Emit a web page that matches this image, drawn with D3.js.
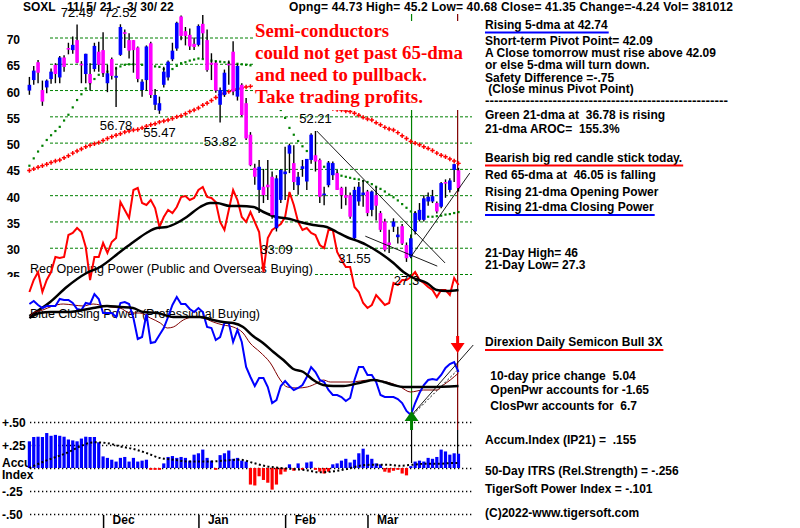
<!DOCTYPE html>
<html><head><meta charset="utf-8">
<script src="https://cdn.jsdelivr.net/npm/d3@7"></script>
<style>body{margin:0;background:#fff}svg{display:block}text{font-family:"Liberation Sans",Arial,sans-serif}</style>
</head><body><svg id="c" width="800" height="528"></svg>
<script>
// ---------- DATA ----------
const openP = [59.9,61.9,65.3,60.0,60.5,62.1,64.8,62.4,66.2,68.0,
 67.6,69.5,65.0,63.05,63.05,64.0,67.3,67.6,61.3,65.9,
 62.35,66.7,71.0,69.5,69.5,68.1,60.0,61.9,68.9,57.2,
 56.1,61.0,62.4,65.85,67.9,74.0,71.2,70.5,68.8,68.6,
 72.6,69.5,65.2,65.2,57.2,59.06,65.0,67.3,58.75,61.0,
 57.5,51.5,45.2,41.0,41.6,42.0,43.5,33.7,39.1,44.0,
 47.9,46.1,41.9,45.0,42.6,46.7,47.6,46.7,40.0,41.9,
 43.8,44.2,41.4,40.0,40.0,31.8,38.8,40.0,40.7,37.2,
 40.0,36.6,35.0,31.0,34.0,32.0,34.1,30.5,28.3,33.1,
 35.3,35.3,38.8,38.8,38.5,37.8,42.5,41.0,44.8,44.73];
const highP = [62.5,64.6,65.7,61.8,62.0,64.1,65.1,66.5,66.6,69.0,
 70.2,72.49,65.5,66.9,65.1,69.0,69.2,71.0,64.8,66.2,
 64.45,72.52,71.5,70.8,69.5,68.3,62.05,68.5,69.2,60.2,
 58.75,64.45,65.6,69.0,73.0,74.2,72.0,71.7,70.0,72.5,
 74.3,71.5,67.0,65.5,60.5,63.9,65.6,69.3,65.0,61.3,
 58.5,52.0,46.0,46.7,45.0,46.7,44.5,43.8,45.0,49.2,
 49.8,49.5,44.4,46.7,46.9,51.8,52.21,47.0,41.6,46.5,
 46.4,44.8,41.6,41.6,40.5,41.6,42.5,42.9,41.0,40.9,
 41.6,37.0,35.5,33.4,35.6,34.0,34.5,31.0,32.5,37.0,
 38.5,40.0,40.5,41.0,38.8,42.5,43.0,43.2,46.0,45.2];
const lowP = [59.1,61.0,61.3,57.0,59.4,61.2,61.3,61.3,63.5,66.8,
 66.9,65.1,61.3,61.3,59.9,63.5,63.5,62.5,59.6,62.0,
 56.78,66.5,68.0,66.0,63.3,61.5,58.75,59.9,58.5,56.2,
 55.47,60.5,61.8,65.5,67.5,69.5,68.5,67.6,67.6,68.3,
 66.0,63.5,61.9,59.5,53.82,58.7,61.0,59.0,58.0,55.0,
 50.5,45.5,42.0,36.6,38.5,39.1,35.5,33.09,38.5,39.1,
 44.2,41.0,40.1,43.5,41.0,46.0,44.5,38.5,38.1,41.5,
 42.9,41.0,37.4,38.1,35.5,31.55,38.0,37.8,36.0,36.0,
 35.2,33.0,29.3,29.0,33.0,30.8,30.5,27.3,28.0,32.5,
 35.0,35.0,38.0,38.5,36.5,37.5,39.5,40.5,42.5,40.68];
const closeP = [61.0,63.7,63.3,57.8,61.8,63.5,63.05,66.2,64.4,67.8,
 68.6,65.2,64.8,66.9,61.3,68.4,64.8,63.2,63.2,62.7,
 62.7,72.0,70.8,67.5,67.6,62.1,61.6,68.3,59.06,59.06,
 57.5,63.5,65.4,67.5,72.8,70.3,70.3,68.3,68.2,72.2,
 70.8,63.8,64.8,59.9,60.0,63.3,64.8,59.7,64.6,55.25,
 50.8,45.7,43.5,45.4,40.0,41.5,36.2,43.2,44.8,44.5,
 49.5,42.5,43.5,45.5,46.9,51.5,46.4,39.7,40.3,46.2,
 46.1,41.0,40.0,39.5,35.9,41.0,41.6,40.5,36.6,40.7,
 38.0,33.4,29.6,30.5,35.0,32.5,30.8,28.0,31.8,36.6,
 37.2,39.4,39.7,39.8,36.9,42.3,42.2,42.8,45.9,41.35];
const ma65 = [44.7,45.0,45.3,45.6,45.9,46.2,46.5,46.7,47.1,47.5,
 48.0,48.4,48.8,49.2,49.5,49.8,50.0,50.4,50.8,51.1,
 51.4,51.7,52.0,52.2,52.4,52.5,52.8,53.1,53.4,53.6,
 53.9,54.1,54.3,54.6,54.9,55.1,55.5,55.9,56.2,56.6,
 57.1,57.5,58.0,58.6,59.1,59.4,59.7,60.0,60.2,60.4,
 60.6,60.7,60.8,60.8,60.7,60.5,60.3,60.0,59.7,59.3,
 59.0,58.7,58.4,58.1,57.8,57.5,57.3,57.1,56.9,56.7,
 56.5,56.3,56.2,56.0,55.9,55.6,55.2,54.8,54.5,54.3,
 53.8,53.4,52.9,52.6,52.4,51.9,51.3,50.8,50.2,49.9,
 49.6,49.2,48.9,48.5,48.0,47.6,47.3,46.9,46.5,46.05];
const ma21 = [45.6,47.0,48.3,49.4,50.5,51.4,52.2,53.0,54.2,55.3,
 56.7,58.1,59.2,60.3,61.3,62.1,62.9,63.2,63.5,63.8,
 64.1,64.5,64.8,64.9,64.9,64.8,64.8,64.7,64.6,64.5,
 64.4,64.0,63.5,64.0,64.6,65.1,65.3,65.6,65.8,66.0,
 65.9,65.8,65.6,65.5,65.4,65.3,65.2,65.1,65.0,64.9,
 64.8,64.7,64.5,64.0,62.8,61.2,59.5,57.8,56.2,54.7,
 52.8,51.5,50.3,49.3,48.4,47.6,46.9,46.1,45.4,44.9,
 44.5,44.1,43.7,43.5,43.3,43.1,43.0,42.7,42.5,42.1,
 41.6,41.2,40.7,40.1,39.6,39.0,38.3,37.6,36.9,36.6,
 36.3,36.1,35.9,35.9,36.0,36.1,36.3,36.4,36.6,36.78];
const openPower = [28,40,48,28,40,48,63,62,63,85,
 87,92,88,73,40,63,63,77,67,78,
 82,118,110,102,130,132,117,115,120,112,
 93,103,110,107,113,123,124,120,122,130,
 133,123,122,118,98,90,110,130,120,103,
 98,108,98,88,48,82,90,93,96,103,
 128,115,98,90,92,87,85,75,72,90,
 90,68,60,53,53,33,28,17,12,15,
 25,20,15,17,37,35,40,40,43,48,
 40,37,33,30,23,30,30,25,42,35];
const opMaIdx = [0,4.8,8.6,13.2,16.3,20.9,24,27,29.4,31.7,34,36.3,39.4,41.7,43.2,46.3,48.6,51.7,54,57,60.1,62.4,65.5,68.6,70.9,73.2,76.3,77.8,80.9,84,86.3,88.6,91.7,94,96.3,99];
const opMaVal = [4,18,33,47,53,68,78,87,92,93,97,103,113,117,117,114,114,113,108,103,101,98,95,93,88,83,78,75,67,57,48,42,37,30,29,30];
const closePower = [116,119,115,112,114,114,114,121,120,120,
 117,111,110,117,116,126,121,107,107,107,
 103,117,118,116,102,81,83,106,77,78,
 85,92,103,115,123,116,116,111,108,112,
 108,93,92,80,83,97,97,78,90,78,
 53,43,34,42,42,33,17,20,34,39,
 34,30,32,35,43,53,48,40,38,30,
 25,25,23,19,22,40,53,53,45,45,
 38,25,23,23,23,21,17,9,5,17,
 27,35,40,41,40,45,52,56,58,48];
const cpMaIdx = [0,2.4,4.8,8.7,14.7,17.9,20.9,23.9,26.2,29.5,33.2,39.4,42.4,44.7,47,49.3,51.6,53.9,56.3,58.6,60.9,63.2,65.5,67.8,70.1,72.4,77,79.4,81.7,84,86.3,92.5,99];
const cpMaVal = [102,107,108,108,112,114,113,112,108,107,103,103,100,98,97,93,84,77,68,60,51,48,40,35,34,34,38,40,38,35,33,33,34];
const cpMa2Idx = [0,0.8,3.1,5.4,7.8,10.1,12.4,14.7,16.3,18.6,20.9,23.2,25.5,27.9,30.2,31.8,33.2,35.5,37.8,40.1,42.4,44.7,47,49.3,50.9,53.2,55.6,57.9,59.5,61.8,64.1,66.4,67.8,69.4,74,78.7,83.3,85.6,87.9,90.9,94.1,95.5,97.1,99];
const cpMa2Val = [102,107,110,114,116,115,114,116,115,113,112,107,107,102,97,92,93,100,103,102,98,95,93,87,77,68,57,40,33,32,33,37,40,38,38,40,37,33,28,30,30,35,40,47];
const accum = [.29,.337,.34,.337,.38,.35,.36,.35,.34,.31,
 .30,.29,.32,.34,.337,.337,.28,.126,.11,.09,
 .07,.11,.12,.07,.11,.07,.08,.09,-.02,-.02,
 -.02,.05,.12,.13,.11,.12,.11,.08,.145,.16,
 .20,.11,.08,-.02,.14,.16,.19,.10,.11,.08,
 .07,-.18,-.19,-.09,-.13,-.16,-.235,-.18,-.07,-.04,
 .04,-.03,.05,-.02,.06,.07,-.02,-.04,-.06,-.04,
 .04,.05,.08,.10,.06,.09,.16,.21,.145,.10,
 .05,.04,-.04,-.05,-.03,-.02,-.06,-.08,.02,.07,
 .08,.07,.11,.10,.12,.20,.18,.145,.16,.155];
const accMaIdx = [0,2.5,5.5,8.6,11.7,14.8,17.8,20.9,24,27,30.1,33.2,36.3,39.4,42.5,45.5,48.6,51.7,54.8,57.8,60.9,64,67,70.2,73.2,76.3,79.4,82.5,85.5,88.6,91.7,94.8,97.8,99];
const accMaVal = [0,.054,.109,.163,.235,.279,.272,.235,.206,.163,.109,.09,.072,.072,.072,.083,.09,.054,.018,0,-.011,-.025,-.047,-.036,-.011,.025,.036,.036,.025,.036,.047,.047,.054,.054];

const priceTicks = [70,65,60,55,50,45,40,35,30,25];
const accTicks = [0.5,0.25,0,-0.25,-0.5];
const accTickLabels = ["+.50","+.25","","-.25","-.50"];
const monthIdx = [17,39,59,78];
const months = ["Dec","Jan","Feb","Mar"];
const peakLabels = [[11,"72.49","h"],[21,"72.52","h"],[20,"56.78","l"],[30,"55.47","l"],[44,"53.82","l"],[66,"52.21","h"],[57,"33.09","l"],[75,"31.55","l"],[87,"27.3","l"]];
const noteLines = ["Semi-conductors","could not get past 65-dma","and need to pullback.","Take trading profits."];
const noteWidths = [134,208,172,168];
const headerText = "Opng= 44.73 High= 45.2 Low= 40.68 Close= 41.35 Change=-4.24 Vol= 381012";
const panelLines = [
 ["Rising 5-dma at 42.74",485,28.5,"blue",0],
 ["Short-term Pivot Point= 42.09",485,45,null,0],
 ["A Close tomorrow must rise above 42.09",485,57,null,0],
 ["or else 5-dma will turn down.",485,68.5,null,0],
 ["Safety Difference =-.75",485,81.5,null,0],
 [" (Close minus Pivot Point)",485,93,null,0],
 ["------------------------------------------------------",485,104.5,null,243],
 ["Green 21-dma at  36.78 is rising",485,119,null,0],
 ["21-dma AROC=  155.3%",485,133,null,0],
 ["Bearish big red candle stick today.",485,161.5,"red",0],
 ["Red 65-dma at  46.05 is falling",485,179,null,0],
 ["Rising 21-dma Opening Power",485,196,null,0],
 ["Rising 21-dma Closing Power",485,211,"blue",0],
 ["21-Day High= 46",485,256.5,null,0],
 ["21-Day Low= 27.3",485,269,null,0],
 ["Direxion Daily Semicon Bull 3X",485,346,"red",0],
 [" 10-day price change  5.04",487,379.5,null,0],
 [" OpenPwr accounts for -1.65",487,393.5,null,0],
 [" ClosPwr accounts for  6.7",487,409.5,null,0],
 ["Accum.Index (IP21) =  .155",485,443.5,null,0],
 ["50-Day ITRS (Rel.Strength) = -.256",485,475,null,0],
 ["TigerSoft Power Index = -.101",485,492.5,null,0],
 ["(C)2022-www.tigersoft.com",485,516.5,null,0]
];

// ---------- SCALES ----------
const svg = d3.select("#c");
const x = d3.scaleLinear().domain([0,99]).range([29.4,458.5]);
const yP = d3.scaleLinear().domain([25,70]).range([274,37.5]);
const yOP = d3.scaleLinear().domain([0,200]).range([320,120]);
const yCP = d3.scaleLinear().domain([0,140]).range([420,280]);
const yA = d3.scaleLinear().domain([-0.5,0.5]).range([514,422]);
const idx = d3.range(100);

// price gridlines
const gGrid = svg.append("g").attr("transform","translate(50,0)")
 .call(d3.axisRight(yP).tickValues(priceTicks).tickSize(422).tickFormat(""));
gGrid.select(".domain").remove();
gGrid.selectAll("line").attr("stroke","#008000").attr("stroke-dasharray","3,2");
// price labels
const gPL = svg.append("g").attr("transform","translate(20,0)")
 .call(d3.axisLeft(yP).tickValues(priceTicks).tickSize(0).tickPadding(0));
gPL.select(".domain").remove();
gPL.selectAll("text").attr("font-size",12).attr("font-weight","bold").attr("fill","#000").attr("dy","0.5em");
// mask lower part of "25"
svg.append("rect").attr("x",0).attr("y",277).attr("width",28).attr("height",6).attr("fill","#fff");

// Red Opening Power label
svg.append("rect").attr("x",29).attr("y",262).attr("width",285).attr("height",15).attr("fill","#fff");
svg.append("text").attr("x",30).attr("y",273).attr("font-size",12.5).attr("textLength",283)
 .text("Red Opening Power (Public and Overseas Buying)");
svg.append("text").attr("x",30).attr("y",318).attr("font-size",12.5).attr("textLength",230)
 .text("Blue Closing Power (Professional Buying)");

// vertical signal lines
const vG = x(88.17), vR = x(98.8);
svg.append("line").attr("x1",vG).attr("x2",vG).attr("y1",14).attr("y2",430).attr("stroke","#008000").attr("stroke-width",1.2);
svg.append("line").attr("x1",vR).attr("x2",vR).attr("y1",14).attr("y2",430).attr("stroke","#800000").attr("stroke-width",1.2);
svg.append("line").attr("x1",vG).attr("x2",vG).attr("y1",430).attr("y2",463).attr("stroke","#000").attr("stroke-width",1.2);
svg.append("line").attr("x1",vR).attr("x2",vR).attr("y1",430).attr("y2",463).attr("stroke","#000").attr("stroke-width",1.2);

// 65-dma red crosses
svg.append("g").selectAll("path").data(idx).join("path")
 .attr("d",d3.symbol(d3.symbolCross,11)()).attr("fill","#ff0000")
 .attr("transform",i=>`translate(${x(i)},${yP(ma65[i])})`);
// 21-dma green squares
svg.append("g").selectAll("rect").data(idx).join("rect")
 .attr("x",i=>x(i)-1.1).attr("y",i=>yP(ma21[i])-1.1).attr("width",2.2).attr("height",2.2).attr("fill","#008000");

// Opening power
svg.append("path").datum(idx).attr("fill","none").attr("stroke","#ff0000").attr("stroke-width",2)
 .attr("d",d3.line().x(i=>x(i)).y(i=>yOP(openPower[i])));
svg.append("path").datum(d3.range(opMaIdx.length)).attr("fill","none").attr("stroke","#000").attr("stroke-width",2.5)
 .attr("d",d3.line().curve(d3.curveMonotoneX).x(k=>x(opMaIdx[k])).y(k=>yOP(opMaVal[k])));

// Closing power
svg.append("path").datum(d3.range(cpMa2Idx.length)).attr("fill","none").attr("stroke","#800000").attr("stroke-width",1)
 .attr("d",d3.line().curve(d3.curveMonotoneX).x(k=>x(cpMa2Idx[k])).y(k=>yCP(cpMa2Val[k])));
svg.append("path").datum(idx).attr("fill","none").attr("stroke","#0000ff").attr("stroke-width",2)
 .attr("d",d3.line().x(i=>x(i)).y(i=>yCP(closePower[i])));
svg.append("path").datum(d3.range(cpMaIdx.length)).attr("fill","none").attr("stroke","#000").attr("stroke-width",2.5)
 .attr("d",d3.line().curve(d3.curveMonotoneX).x(k=>x(cpMaIdx[k])).y(k=>yCP(cpMaVal[k])));

// candles
const gC = svg.append("g");
gC.selectAll("line").data(idx).join("line")
 .attr("x1",i=>x(i)).attr("x2",i=>x(i)).attr("y1",i=>yP(highP[i])).attr("y2",i=>yP(lowP[i]))
 .attr("stroke","#000").attr("stroke-width",1.4);
gC.selectAll("rect").data(idx).join("rect")
 .attr("x",i=>x(i)-1.8).attr("width",3.6)
 .attr("y",i=>yP(Math.max(openP[i],closeP[i])))
 .attr("height",i=>Math.max(1.6,Math.abs(yP(openP[i])-yP(closeP[i]))))
 .attr("fill",i=>closeP[i]>=openP[i]?"#0000ff":"#ff00ff");

// trend lines (analyst drawn)
const tl = [[x(66.3),yP(52.21),x(95.9),yP(27.1)],[x(77.5),yP(32.2),x(94.1),yP(26.5)],[x(88.2),yP(28.5),x(101.6),yP(44.2)],
 [x(88.2),yCP(5),x(102.4),yCP(75)]];
tl.forEach(d=>svg.append("line").attr("x1",d[0]).attr("y1",d[1]).attr("x2",d[2]).attr("y2",d[3]).attr("stroke","#000").attr("stroke-width",0.9));
svg.append("line").attr("x1",x(88.6)).attr("y1",yCP(6)).attr("x2",x(98.8)).attr("y2",yCP(50)).attr("stroke","#000").attr("stroke-width",1).attr("stroke-dasharray","2,2");

// peak/trough labels
svg.append("g").selectAll("text").data(peakLabels).join("text")
 .attr("x",d=>x(d[0])).attr("text-anchor","middle").attr("font-size",13)
 .attr("y",d=>d[2]==="h"?yP(highP[d[0]])-7.5:yP(lowP[d[0]])+23).text(d=>d[1]);

// white note box and red text
svg.append("rect").attr("x",253).attr("y",21).attr("width",223).attr("height",89).attr("fill","#fff");
svg.append("g").selectAll("text").data(noteLines).join("text")
 .attr("x",255).attr("y",(d,i)=>37+i*22).attr("textLength",(d,i)=>noteWidths[i]).attr("lengthAdjust","spacingAndGlyphs")
 .style("font-family","'Liberation Serif','Times New Roman',serif")
 .attr("font-weight","bold").attr("font-size",18).attr("fill","#ff0000").text(d=>d);

// header
svg.append("text").attr("x",23).attr("y",11).attr("font-size",12).attr("font-weight","bold").text("SOXL");
svg.append("text").attr("x",67).attr("y",11).attr("font-size",12).attr("font-weight","bold").text("11/ 5/ 21 -");
svg.append("text").attr("x",127).attr("y",11).attr("font-size",12).attr("font-weight","bold").text("3/ 30/ 22");
svg.append("text").attr("x",289).attr("y",11).attr("font-size",12).attr("font-weight","bold").attr("textLength",444).text(headerText);

// accumulation panel
const gAG = svg.append("g").attr("transform","translate(30,0)")
 .call(d3.axisRight(yA).tickValues(accTicks).tickSize(442).tickFormat(""));
gAG.select(".domain").remove();
gAG.selectAll("line").attr("stroke","#000").attr("stroke-width",1.3).attr("stroke-dasharray","1.3,2.7");
svg.append("g").selectAll("text").data(accTicks).join("text")
 .attr("x",2).attr("y",d=>yA(d)+4.5).attr("font-size",12).attr("font-weight","bold")
 .text((d,i)=>accTickLabels[i]);
svg.append("text").attr("x",2).attr("y",467).attr("font-size",12).attr("font-weight","bold").text("Accu");
svg.append("text").attr("x",2).attr("y",479).attr("font-size",12).attr("font-weight","bold").text("Index");
svg.append("g").selectAll("rect").data(idx).join("rect")
 .attr("x",i=>x(i)-1.6).attr("width",3.2)
 .attr("y",i=>yA(Math.max(0,accum[i])))
 .attr("height",i=>Math.max(1.5,Math.abs(yA(accum[i])-yA(0))))
 .attr("fill",i=>accum[i]>=0?"#0000ff":"#ff0000");
svg.append("path").datum(d3.range(accMaIdx.length)).attr("fill","none").attr("stroke","#000").attr("stroke-width",2).attr("stroke-dasharray","2,2.4")
 .attr("d",d3.line().curve(d3.curveMonotoneX).x(k=>x(accMaIdx[k])).y(k=>yA(accMaVal[k])));

// month axis
const gM = svg.append("g").attr("transform","translate(0,515)")
 .call(d3.axisBottom(x).tickValues(monthIdx).tickSize(13).tickFormat((d,i)=>months[i]));
gM.select(".domain").remove();
gM.selectAll("line").attr("stroke","#000").attr("stroke-width",1.5);
gM.selectAll("text").attr("x",9).attr("y",9).attr("dy","0").attr("text-anchor","start")
 .attr("font-size",12).attr("font-weight","bold").attr("fill","#000");

// arrows
const gA = svg.append("g");
gA.append("path").attr("d",`M${vG},411 L${vG-7},421 L${vG-1.5},421 L${vG-1.5},430 L${vG+1.5},430 L${vG+1.5},421 L${vG+7},421 Z`).attr("fill","#008000");
gA.append("path").attr("d",`M${vR},353 L${vR-7},343 L${vR-1.5},343 L${vR-1.5},336 L${vR+1.5},336 L${vR+1.5},343 L${vR+7},343 Z`).attr("fill","#ff0000");

// right panel
const gR = svg.append("g");
panelLines.forEach(d=>{
 const t = gR.append("text").attr("x",d[1]).attr("y",d[2]).attr("font-size",12).attr("font-weight","bold")
  .attr("xml:space","preserve").style("white-space","pre").text(d[0]);
 if(d[4]) t.attr("textLength",d[4]).attr("lengthAdjust","spacingAndGlyphs");
 if(d[3]){
  const w = t.node().getComputedTextLength();
  gR.append("line").attr("x1",485).attr("x2",d[1]+w+1).attr("y1",d[2]+4).attr("y2",d[2]+4)
   .attr("stroke",d[3]==="blue"?"#0000ff":"#ff0000").attr("stroke-width",2);
 }
});
</script></body></html>
